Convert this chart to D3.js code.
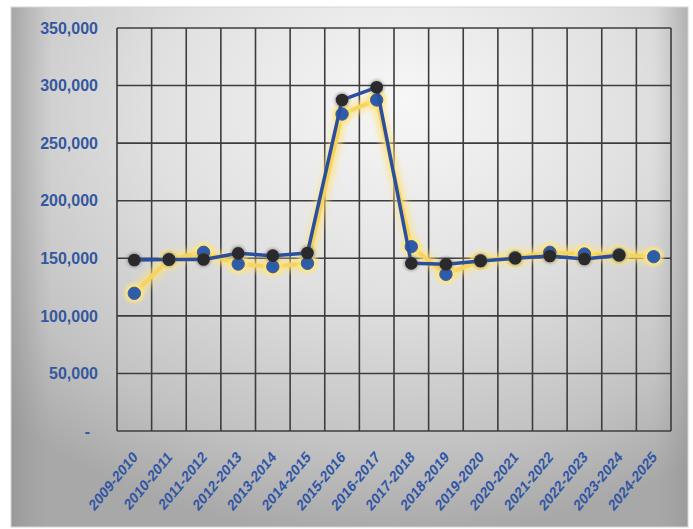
<!DOCTYPE html>
<html>
<head>
<meta charset="utf-8">
<script src="https://cdn.jsdelivr.net/npm/d3@7/dist/d3.min.js"></script>
<style>
  html, body { margin: 0; padding: 0; background: #ffffff; }
  svg { display: block; }
</style>
</head>
<body>
<svg id="chart" width="693" height="529"></svg>
<script>
// Academic years on the category axis
const years = ["2009-2010","2010-2011","2011-2012","2012-2013","2013-2014","2014-2015",
  "2015-2016","2016-2017","2017-2018","2018-2019","2019-2020","2020-2021",
  "2021-2022","2022-2023","2023-2024","2024-2025"];

// Series drawn with the blue line and dark markers (no value for the last year)
const seriesDark = [148500, 149000, 149000, 154300, 152300, 154600, 287500, 298500,
  145600, 144800, 147600, 150000, 152000, 149400, 152600, null];

// Series drawn with the yellow glowing line and blue markers
const seriesBlue = [119600, 149000, 155200, 145000, 142700, 145600, 275300, 287500,
  160100, 136100, 148000, 150500, 155200, 153700, 153000, 151400];

const yTicks = [0, 50000, 100000, 150000, 200000, 250000, 300000, 350000];

const svg = d3.select("#chart");
const defs = svg.append("defs");

// Panel background: soft radial grey gradient
const rg = defs.append("radialGradient").attr("id", "panelGrad")
  .attr("cx", "55%").attr("cy", "22%").attr("r", "80%").attr("fx", "58%").attr("fy", "18%");
rg.append("stop").attr("offset", "0%").attr("stop-color", "#f7f7f7");
rg.append("stop").attr("offset", "45%").attr("stop-color", "#e0e0e0");
rg.append("stop").attr("offset", "80%").attr("stop-color", "#c2c2c2");
rg.append("stop").attr("offset", "100%").attr("stop-color", "#a8a8a8");

const lg = defs.append("linearGradient").attr("id", "edgeGrad").attr("x1", "0").attr("x2", "1");
lg.append("stop").attr("offset", "0%").attr("stop-color", "#8f8f8f").attr("stop-opacity", 0.6);
lg.append("stop").attr("offset", "6%").attr("stop-color", "#a0a0a0").attr("stop-opacity", 0);
lg.append("stop").attr("offset", "95%").attr("stop-color", "#a0a0a0").attr("stop-opacity", 0);
lg.append("stop").attr("offset", "100%").attr("stop-color", "#8f8f8f").attr("stop-opacity", 0.5);

const glow = defs.append("filter").attr("id", "glow")
  .attr("x", "-20%").attr("y", "-20%").attr("width", "140%").attr("height", "140%");
glow.append("feGaussianBlur").attr("stdDeviation", 3);

const soft = defs.append("filter").attr("id", "soft")
  .attr("x", "-50%").attr("y", "-50%").attr("width", "200%").attr("height", "200%");
soft.append("feGaussianBlur").attr("stdDeviation", 1.6);

const blur1 = defs.append("filter").attr("id", "blur1");
blur1.append("feGaussianBlur").attr("stdDeviation", 0.5);

// Panel
svg.append("rect").attr("x", 11).attr("y", 7).attr("width", 677).attr("height", 520)
  .attr("fill", "url(#panelGrad)");
svg.append("rect").attr("x", 11).attr("y", 7).attr("width", 677).attr("height", 520)
  .attr("fill", "url(#edgeGrad)");
svg.append("rect").attr("x", 11).attr("y", 7).attr("width", 677).attr("height", 520)
  .attr("fill", "none").attr("stroke", "#d6d6d6").attr("stroke-width", 1);

const plotLeft = 117, plotRight = 671, plotTop = 28, plotBottom = 431;

const x = d3.scaleBand().domain(years).range([plotLeft, plotRight]).padding(0);
const y = d3.scaleLinear().domain([0, 350000]).range([plotBottom, plotTop]);

const cx = d => x(d) + x.bandwidth() / 2;

// Grid
const grid = svg.append("g").attr("stroke", "#3c3c3c").attr("stroke-width", 1.6).attr("filter", "url(#blur1)");
grid.selectAll("line.h").data(yTicks).join("line")
  .attr("x1", plotLeft).attr("x2", plotRight)
  .attr("y1", d => y(d)).attr("y2", d => y(d));
const bounds = years.map(d => x(d)).concat([plotRight]);
grid.selectAll("line.v").data(bounds).join("line")
  .attr("x1", d => d).attr("x2", d => d)
  .attr("y1", plotTop).attr("y2", plotBottom);

// Y axis labels
const fmt = d3.format(",");
svg.append("g").selectAll("text").data(yTicks).join("text")
  .attr("x", d => d === 0 ? 90 : 98)
  .attr("y", d => y(d))
  .attr("dy", "0.36em")
  .attr("text-anchor", "end")
  .attr("font-family", "Liberation Sans, Arial, sans-serif")
  .attr("font-weight", "bold")
  .attr("font-size", 16)
  .attr("fill", "#34589e")
  .text(d => d === 0 ? "-" : fmt(d));

// X axis labels, rotated and stretched slightly upright
svg.append("g").selectAll("text").data(years).join("text")
  .attr("transform", d => `translate(${cx(d) + 4},${plotBottom + 27}) scale(1,1.22) rotate(-45)`)
  .attr("text-anchor", "end")
  .attr("font-family", "Liberation Sans, Arial, sans-serif")
  .attr("font-weight", "bold")
  .attr("font-size", 13)
  .attr("fill", "#2f56a6")
  .text(d => d);

// Yellow series
const lineBlue = d3.line().x((d, i) => cx(years[i])).y(d => y(d));
const gBlue = svg.append("g");
gBlue.append("path").datum(seriesBlue)
  .attr("d", lineBlue).attr("fill", "none")
  .attr("stroke", "#ffe27a").attr("stroke-width", 11).attr("stroke-opacity", 0.75)
  .attr("stroke-linejoin", "round").attr("filter", "url(#glow)");
gBlue.append("path").datum(seriesBlue)
  .attr("d", lineBlue).attr("fill", "none")
  .attr("stroke", "#f6d35c").attr("stroke-width", 4)
  .attr("stroke-linejoin", "round");
gBlue.selectAll("circle.halo").data(seriesBlue).join("circle")
  .attr("cx", (d, i) => cx(years[i])).attr("cy", d => y(d)).attr("r", 10)
  .attr("fill", "#ffe680").attr("opacity", 0.8).attr("filter", "url(#soft)");
gBlue.selectAll("circle.dot").data(seriesBlue).join("circle")
  .attr("cx", (d, i) => cx(years[i])).attr("cy", d => y(d)).attr("r", 6.2)
  .attr("fill", "#2d5cab").attr("stroke", "#3f5f8f").attr("stroke-width", 1);

// Blue line with dark markers
const lineDark = d3.line().defined(d => d !== null).x((d, i) => cx(years[i])).y(d => y(d));
const gDark = svg.append("g");
gDark.append("path").datum(seriesDark)
  .attr("d", lineDark).attr("fill", "none")
  .attr("stroke", "#2a4f9e").attr("stroke-width", 3.5)
  .attr("stroke-linejoin", "round");
const darkPts = seriesDark.map((v, i) => ({v, i})).filter(d => d.v !== null);
gDark.selectAll("circle.shadow").data(darkPts).join("circle")
  .attr("cx", d => cx(years[d.i])).attr("cy", d => y(d.v)).attr("r", 7.5)
  .attr("fill", "#555").attr("opacity", 0.45).attr("filter", "url(#soft)");
gDark.selectAll("circle.dot").data(darkPts).join("circle")
  .attr("cx", d => cx(years[d.i])).attr("cy", d => y(d.v)).attr("r", 6.3)
  .attr("fill", "#2a2a2c");
</script>
</body>
</html>
